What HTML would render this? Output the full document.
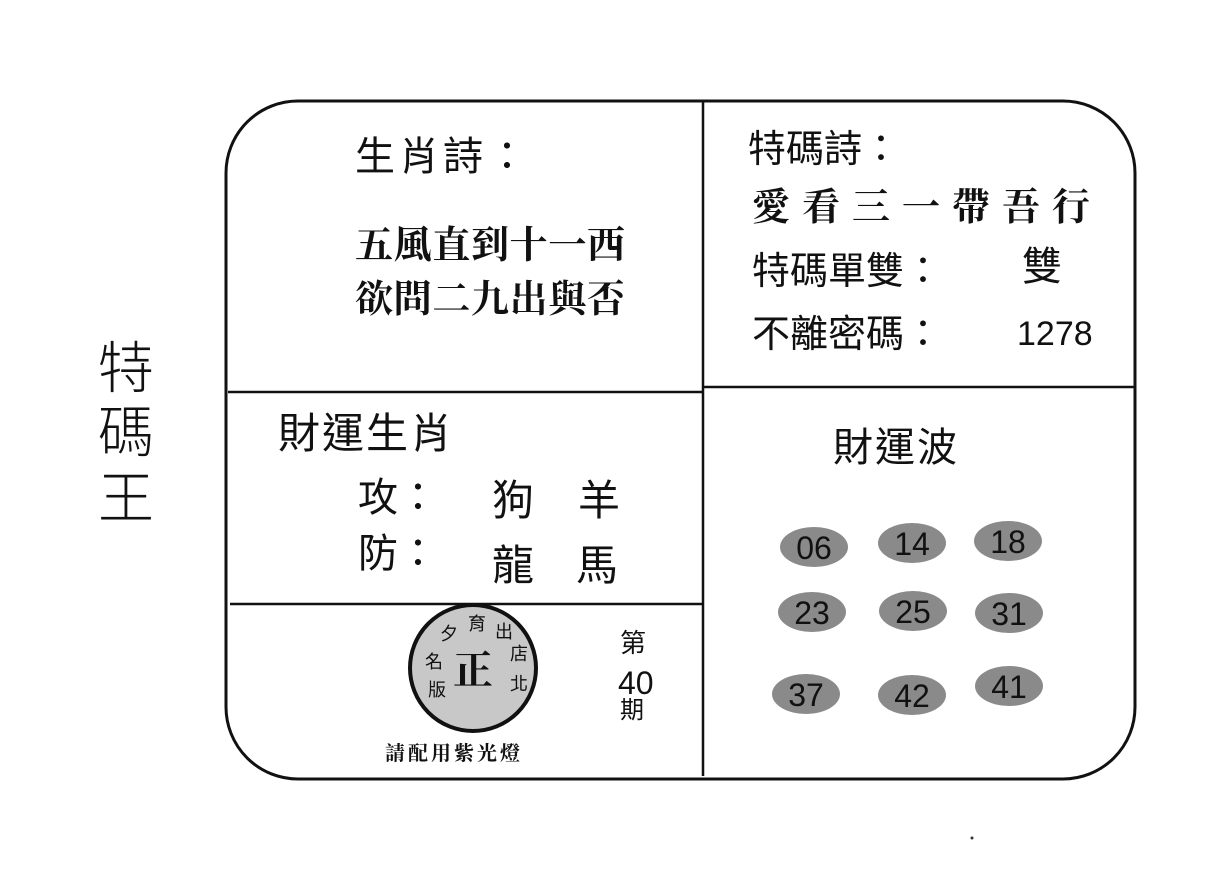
<!DOCTYPE html>
<html><head><meta charset="utf-8"><style>
html,body{margin:0;padding:0;background:#fff;}
svg{display:block}
text{font-family:"Liberation Sans","Noto Sans CJK TC","Noto Sans CJK SC",sans-serif;fill:#111}
.k{font-family:"Noto Serif CJK SC","Noto Sans CJK TC",serif;font-weight:bold}
</style></head><body>
<svg width="1226" height="891" viewBox="0 0 1226 891" xmlns="http://www.w3.org/2000/svg">
<rect x="226" y="101" width="909" height="678" rx="72" ry="72" fill="none" stroke="#111" stroke-width="3"/>
<line x1="703" y1="101" x2="703" y2="776" stroke="#111" stroke-width="2.5"/>
<line x1="228" y1="392" x2="703" y2="392" stroke="#111" stroke-width="2.5"/>
<line x1="703" y1="387" x2="1134" y2="387" stroke="#111" stroke-width="2.5"/>
<line x1="230" y1="604" x2="703" y2="604" stroke="#111" stroke-width="2.5"/>

<text x="98" y="388" font-size="56" font-weight="300">特</text>
<text x="98" y="452" font-size="56" font-weight="300">碼</text>
<text x="98" y="518" font-size="56" font-weight="300">王</text>

<text x="355" y="170" font-size="40" letter-spacing="4">生肖詩：</text>
<text x="355" y="258" font-size="38" class="k" textLength="270">五風直到十一西</text>
<text x="355" y="312" font-size="38" class="k" textLength="270">欲問二九出與否</text>

<text x="748" y="162" font-size="38">特碼詩：</text>
<text x="752" y="220" font-size="38" class="k" textLength="338">愛看三一帶吾行</text>
<text x="752" y="284" font-size="38">特碼單雙：</text>
<text x="1022" y="280" font-size="40">雙</text>
<text x="752" y="347" font-size="38">不離密碼：</text>
<text x="1017" y="345" font-size="34">1278</text>

<text x="278" y="448" font-size="42" letter-spacing="2">財運生肖</text>
<text x="358" y="511" font-size="40">攻：</text>
<text x="492" y="515" font-size="42">狗</text>
<text x="578" y="515" font-size="42">羊</text>
<text x="358" y="567" font-size="40">防：</text>
<text x="492" y="580" font-size="42">龍</text>
<text x="576" y="580" font-size="42">馬</text>

<text x="833" y="461" font-size="40" letter-spacing="2">財運波</text>

<g fill="#8a8a8a">
<ellipse cx="814" cy="547" rx="34" ry="20"/>
<ellipse cx="912" cy="543" rx="34" ry="20"/>
<ellipse cx="1008" cy="541" rx="34" ry="20"/>
<ellipse cx="812" cy="612" rx="34" ry="20"/>
<ellipse cx="913" cy="611" rx="34" ry="20"/>
<ellipse cx="1009" cy="613" rx="34" ry="20"/>
<ellipse cx="806" cy="694" rx="34" ry="20"/>
<ellipse cx="912" cy="695" rx="34" ry="20"/>
<ellipse cx="1009" cy="686" rx="34" ry="20"/>
</g>
<g font-size="32" text-anchor="middle">
<text x="814" y="559">06</text>
<text x="912" y="555">14</text>
<text x="1008" y="553">18</text>
<text x="812" y="624">23</text>
<text x="913" y="623">25</text>
<text x="1009" y="625">31</text>
<text x="806" y="706">37</text>
<text x="912" y="707">42</text>
<text x="1009" y="698">41</text>
</g>

<circle cx="473" cy="668" r="63" fill="#c8c8c8" stroke="#111" stroke-width="4"/>
<text x="473" y="684" font-size="40" text-anchor="middle" class="k">正</text>
<g font-size="18" fill="#222">
<text x="468" y="630">育</text><text x="495" y="638">出</text><text x="510" y="660">店</text><text x="510" y="690">北</text>
<text x="440" y="640">夕</text><text x="425" y="668">名</text><text x="428" y="696">版</text>
</g>
<text x="620" y="652" font-size="26">第</text>
<text x="618" y="694" font-size="32">40</text>
<text x="620" y="718" font-size="24">期</text>
<text x="385" y="760" font-size="20" letter-spacing="3" class="k">請配用紫光燈</text>
<circle cx="972" cy="838" r="1.5" fill="#333"/>
</svg>
</body></html>
